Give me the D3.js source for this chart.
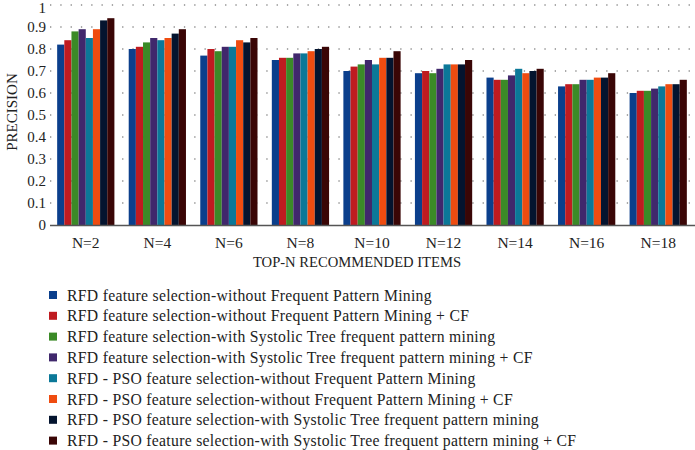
<!DOCTYPE html>
<html>
<head>
<meta charset="utf-8">
<script src="https://cdn.jsdelivr.net/npm/d3@7"></script>
<style>
body { margin: 0; background: #fff; }
text { font-family: "Liberation Serif", "DejaVu Serif", serif; fill: #222; }
</style>
</head>
<body>
<div id="chart"></div>
<script>
const categories = ["N=2", "N=4", "N=6", "N=8", "N=10", "N=12", "N=14", "N=16", "N=18"];
const seriesNames = [
  "RFD feature selection-without Frequent Pattern Mining",
  "RFD feature selection-without Frequent Pattern Mining + CF",
  "RFD feature selection-with Systolic Tree frequent pattern mining",
  "RFD feature selection-with Systolic Tree frequent pattern mining + CF",
  "RFD - PSO feature selection-without Frequent Pattern Mining",
  "RFD - PSO feature selection-without Frequent Pattern Mining + CF",
  "RFD - PSO feature selection-with Systolic Tree frequent pattern mining",
  "RFD - PSO feature selection-with Systolic Tree frequent pattern mining + CF"
];
const colors = ["#0b3f8c", "#bf1b20", "#3b8a27", "#40286c", "#0b7898", "#ef4c10", "#04142f", "#3a0606"];
// values[series][category]
const values = [
  [0.82, 0.80, 0.77, 0.75, 0.70, 0.69, 0.67, 0.63, 0.60],
  [0.84, 0.81, 0.80, 0.76, 0.72, 0.70, 0.66, 0.64, 0.61],
  [0.88, 0.83, 0.79, 0.76, 0.73, 0.69, 0.66, 0.64, 0.61],
  [0.89, 0.85, 0.81, 0.78, 0.75, 0.71, 0.68, 0.66, 0.62],
  [0.85, 0.84, 0.81, 0.78, 0.73, 0.73, 0.71, 0.66, 0.63],
  [0.89, 0.85, 0.84, 0.79, 0.76, 0.73, 0.69, 0.67, 0.64],
  [0.93, 0.87, 0.83, 0.80, 0.76, 0.73, 0.70, 0.67, 0.64],
  [0.94, 0.89, 0.85, 0.81, 0.79, 0.75, 0.71, 0.69, 0.66]
];
const yTicks = [0, 0.1, 0.2, 0.3, 0.4, 0.5, 0.6, 0.7, 0.8, 0.9, 1];

const width = 695, height = 450;

const svg = d3.select("#chart").append("svg")
  .attr("width", width).attr("height", height);

const x = d3.scaleBand().domain(categories).range([50, 694]).paddingInner(0.2).paddingOuter(0.1);
const xi = d3.scaleBand().domain(d3.range(seriesNames.length)).range([0, x.bandwidth()]);
const y = d3.scaleLinear().domain([0, 1]).range([225, 5]);

// dotted grid
svg.append("g").selectAll("line").data(yTicks.slice(1)).join("line")
  .attr("x1", 50).attr("x2", 695)
  .attr("y1", d => y(d)).attr("y2", d => y(d))
  .attr("stroke", "#555").attr("stroke-width", 1.2)
  .attr("stroke-dasharray", "1.3,9");

// y tick labels
svg.append("g").selectAll("text").data(yTicks).join("text")
  .attr("x", 46).attr("y", d => y(d) + (d === 1 ? 2.5 : 0)).attr("dy", "0.35em")
  .attr("text-anchor", "end").attr("font-size", 15)
  .text(d => d3.format("")(d));

// bars
svg.append("g").selectAll("g").data(values).join("g")
  .attr("fill", (d, i) => colors[i])
  .each(function(row, si) {
    d3.select(this).selectAll("rect").data(row).join("rect")
      .attr("x", (d, ci) => x(categories[ci]) + xi(si))
      .attr("width", xi.bandwidth())
      .attr("y", d => y(d))
      .attr("height", d => y(0) - y(d));
  });

// baseline
svg.append("line").attr("x1", 50).attr("x2", 695)
  .attr("y1", y(0) + 0.5).attr("y2", y(0) + 0.5)
  .attr("stroke", "#555").attr("stroke-width", 1.5);

// x labels
svg.append("g").selectAll("text").data(categories).join("text")
  .attr("x", d => x(d) + x.bandwidth() / 2).attr("y", 243)
  .attr("dy", "0.35em").attr("text-anchor", "middle").attr("font-size", 15.5)
  .text(d => d);

svg.append("text").attr("x", 357).attr("y", 262).attr("dy", "0.35em")
  .attr("text-anchor", "middle").attr("font-size", 14.6)
  .text("TOP-N RECOMMENDED ITEMS");

svg.append("text")
  .attr("transform", "translate(12,112) rotate(-90)")
  .attr("dy", "0.35em").attr("text-anchor", "middle").attr("font-size", 15)
  .text("PRECISION");

// legend
const legend = svg.append("g").selectAll("g").data(seriesNames).join("g")
  .attr("transform", (d, i) => `translate(49,${295 + i * 20.8})`);
legend.append("rect").attr("x", 0).attr("y", -4).attr("width", 8).attr("height", 8)
  .attr("fill", (d, i) => colors[i]);
legend.append("text").attr("x", 18).attr("dy", "0.35em").attr("font-size", 15.7)
  .attr("letter-spacing", 0.3)
  .text(d => d);
</script>
</body>
</html>
